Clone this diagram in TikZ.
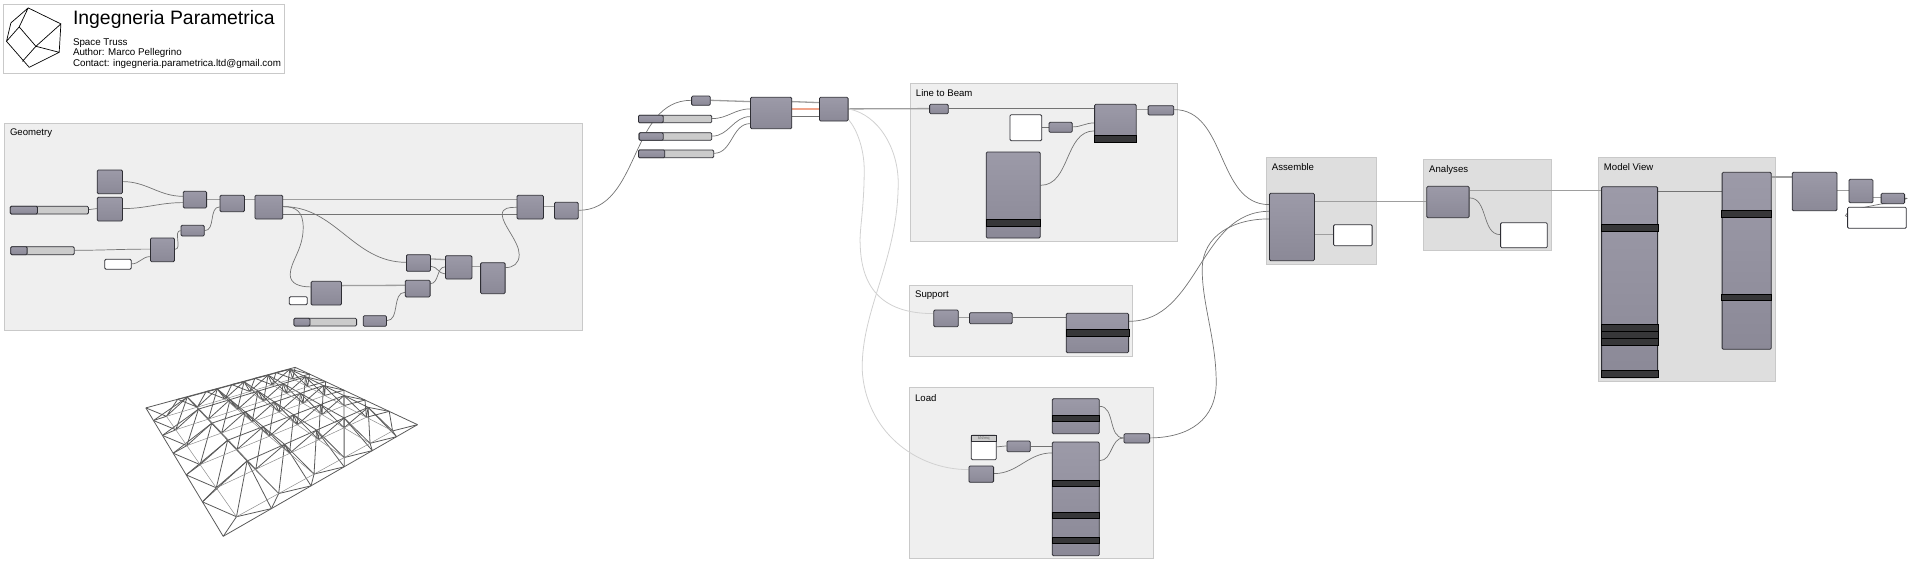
\documentclass[tikz,border=0pt]{standalone}
\usepackage{fontspec}
\setmainfont{Liberation Sans}
\definecolor{compTop}{HTML}{9C9AA8}
\definecolor{compBot}{HTML}{8B8997}
\definecolor{compLine}{HTML}{2E2E34}
\definecolor{bandFill}{HTML}{373739}
\definecolor{grpLight}{HTML}{EFEFEF}
\definecolor{grpDark}{HTML}{DEDEDE}
\definecolor{grpLine}{HTML}{C9C9C9}
\definecolor{sliderFill}{HTML}{CBCBCB}
\definecolor{hotWire}{HTML}{F0A58C}
\pgfdeclarelayer{grp}
\pgfdeclarelayer{wires}
\pgfsetlayers{grp,wires,main}
\tikzset{
  comp/.style={draw=compLine,line width=.8,rounded corners=1.2,top color=compTop,bottom color=compBot,anchor=north west,inner sep=0},
  pan/.style={draw=compLine,line width=.8,rounded corners=1.2,fill=white,anchor=north west,inner sep=0},
  slider/.style={draw=compLine,line width=.8,rounded corners=1.2,fill=sliderFill,anchor=north west,inner sep=0},
  grpbox/.style={draw=grpLine,line width=1,anchor=north west,inner sep=0},
  grptext/.style={anchor=west,font=\fontsize{9.6}{11}\selectfont,inner sep=0},
  band/.style={draw=black,line width=.6,fill=bandFill},
  wire/.style={draw=black!55,line width=.7},
  wirethick/.style={draw=black!38,line width=1.3},
  wirefaint/.style={draw=black!18,line width=.8},
  wirehot/.style={draw=hotWire,line width=1.2},
  truss/.style={draw=black!65,line width=.8},
  trusslow/.style={draw=black!45,line width=.5}
}
\begin{document}
\begin{tikzpicture}[x=1pt,y=-1pt]
\useasboundingbox (.8,.4) rectangle (1910.8,566.4);
\node[pan,draw=grpLine,line width=1,rounded corners=0,minimum width=281,minimum height=69] (Info) at (4,4.5) {};
\draw[line width=.7] (29,8.3) -- (61.7,24.3) -- (60,52.7) -- (30,67.7) -- (7.3,41.7) -- (11.7,23.3) -- cycle
  (29,8.3) -- (20,27.3) -- (7.3,41.7) (20,27.3) -- (36.7,46.7) -- (61.7,24.3)
  (36.7,46.7) -- (60,52.7) (36.7,46.7) -- (23.3,61.7);
\node[anchor=west,inner sep=0,font=\fontsize{19.4}{22}\selectfont] (Title) at (73.6,20.3) {Ingegneria Parametrica};
\foreach \n/\y/\t in {Sub/43.3/Space Truss,Who/53.6/Author: Marco Pellegrino,Mail/64/Contact: ingegneria.parametrica.ltd@gmail.com} {
  \node[anchor=west,inner sep=0,font=\fontsize{9.8}{11}\selectfont] (\n) at (73.6,\y) {\t};
}
\begin{pgfonlayer}{grp}
\foreach \n/\xa/\ya/\xb/\yb/\c/\t in {Geom/4.6/123.7/582.5/330/grpLight/Geometry,Beam/910.5/83.3/1177.6/241.7/grpLight/Line to Beam,Supp/909.7/285.7/1132.4/356.3/grpLight/Support,Load/909.7/387.7/1153.7/558.7/grpLight/Load,Asm/1266.5/157/1376.8/264.3/grpDark/Assemble,Ana/1423.8/159.7/1551.5/250.3/grpDark/Analyses,View/1598.5/157.3/1775.5/381.3/grpDark/Model View} {
  \node[grpbox,fill=\c,minimum width=\xb-\xa,minimum height=\yb-\ya] (\n) at (\xa,\ya) {};
  \node[grptext] (\n T) at (\xa+6,\ya+10.3) {\t};
}
\end{pgfonlayer}
\foreach \n/\xa/\ya/\xb/\yb in {G1/97.6/170/122.8/193.7,G2/97.6/197.3/122.8/221,G3/150.8/238/174.9/261.7,G4/181.4/225.3/204.7/236,G5/183.7/191.3/207/208,G6/220.4/195.3/244.9/211.7,G7/255.3/195.3/283.2/219,G8/517.4/195.3/543.8/219,G9/554.9/202.3/578.6/219,G10/406.8/254.7/430.9/271.3,G11/405.7/280.3/430.5/297,G12/445.8/255.7/472.3/279,G13/481/262.7/505.5/293.7,G14/311.5/281.3/341.8/305,G15/363.6/315.7/386.9/326.3,
  A1/692/96/710.7/105.3,A2/750.9/97.3/792.2/128.7,A3/819.8/97.3/848.5/121,
  L1/930/104.3/948.7/113.7,L3/1049.4/122.3/1072.7/132.3,L4/1095/104.3/1136.6/142.3,L5/1148.5/105.7/1174.2/115,L6/986.6/152/1040.6/238,
  U1/934.2/310/958.7/326.7,U2/969.8/312.7/1012.6/323.7,U3/1066.6/313.3/1129/352.7,
  O1/1052.7/398.7/1099.7/433.7,O2/1052.7/442/1099.7/555.7,O3/1124.3/433.7/1150/443,O5/1007.3/441/1030.7/451.7,O6/969.3/466/994/482.3,
  M1/1269.9/193.3/1314.8/260.7,N1/1427.2/186.3/1469.5/217.7,V1/1602/186.7/1658/377.7,V2/1722.5/172.3/1771.6/349.3,W1/1792.6/172.3/1837.4/210.7,W2/1849.4/179.3/1873.3/202.7,W3/1881.5/193.3/1905/203.7} {
  \node[comp,minimum width=\xb-\xa,minimum height=\yb-\ya] (\n) at (\xa,\ya) {};
}
\foreach \n/\xa/\ya/\xb/\yb in {P1/105.2/259.3/131.6/269.3,P2/289.7/296.7/307.7/304.7,L2/1010.4/114.7/1042.1/140.7,O4/971.7/435.3/996.7/459.7,M2/1334/224.7/1372.5/245.7,N2/1501/222.7/1547.7/247.7,W4/1848/207.3/1906.7/228.3} {
  \node[pan,minimum width=\xb-\xa,minimum height=\yb-\ya] (\n) at (\xa,\ya) {};
}
\node[slider,rounded corners=0,minimum width=24.6,minimum height=6,font=\fontsize{4}{4}\selectfont,text=black!60] (O4h) at (971.9,435.6) {kN/mq};
\foreach \n/\xa/\ya/\xb/\yb/\xc in {S1/10.7/206.3/88.8/214/37.9,S2/11.1/246.7/74.6/254.7/27.5,S3/294.3/318.3/357/326/310.4,S4/638.8/115.3/712.2/122.7/663.6,S5/639.5/132.7/712.2/140.3/663.6,S6/638.8/150/714.1/157.7/665.2} {
  \node[slider,minimum width=\xb-\xa,minimum height=\yb-\ya] (\n) at (\xa,\ya) {};
  \node[comp,minimum width=\xc-\xa,minimum height=\yb-\ya] (\n g) at (\xa,\ya) {};
}
\foreach \n/\ya/\yb in {L4/135.7/142.3,L6/219.7/226.7,U3/330/336.7,O1/415.3/421.7,O2/480.3/486.7,O2/512.3/519,O2/537.3/543.7,V1/224.7/231.7,V1/325/331.7,V1/332/338.7,V1/339/345.7,V1/370.7/377.7,V2/211/217.7,V2/294.3/301} {
  \draw[band] (\n.west |- 0,\ya) rectangle (\n.east |- 0,\yb);
}
\begin{pgfonlayer}{wires}
\foreach \a/\ya/\b/\yb in {S1/210/G2/209,G1/182/G5/196.7,G2/209/G5/203,S2/250.7/G3/249.5,P1/264.3/G3/257,G3/249.7/G4/231,G4/231/G6/207.3,G7/207/G10/262.7,G7/214.7/G8/214.7,G10/266.7/G12/274.3,G11/284/G12/267.3,G15/321/G11/292.7,G9/210.7/A1/100.7,S4/119/A2/109.3,S5/136.5/A2/117,S6/153.7/A2/124,A2/116.3/A3/116.3,L1/109/L4/109,L2/127.3/L3/127.3,L3/127.3/L4/123.3,L6/185.7/L4/131.3,L5/110/M1/205,U2/318/U3/318,U3/321.7/M1/211.7,O1/406.7/O3/438.3,O2/461/O3/438.3,O4/447.3/O5/446.3,O5/446.3/O2/446.3,O6/474/O2/453.3,N1/198.3/N2/235,V1/191.7/V2/191.7} {
  \draw[wire] (\a.east |- 0,\ya) to[out=0,in=180] (\b.west |- 0,\yb);
}
\foreach \a/\ya/\b/\yb in {G5/199.7/G6/199.7,G6/199.7/G7/199.7,G7/199.7/G8/199.7,G14/286/G11/285.7,G10/259.3/G12/260,G12/267/G13/267,G8/207/G9/207,A1/100.7/A2/102,A2/102/A3/103,A3/109.3/L1/109,L4/110/L5/110,U1/318/U2/318,M1/201.7/N1/201.7,M1/235/M2/235,N1/191/V1/191,V2/177.3/W1/177.3,W1/190.7/W2/190.7,W2/198/W3/198} {
  \draw[wirethick] (\a.east |- 0,\ya) -- (\b.west |- 0,\yb);
}
\draw[wirehot] (A2.east |- 0,109.3) -- (A3.west |- 0,109.3);
\draw[wire] (G7.east |- 0,207) .. controls (297,207) and (304,212) .. (304,228) .. controls (304,250) and (291,262) .. (291,275) .. controls (291,284) and (300,287.3) .. (G14.west |- 0,287.3);
\draw[wire] (G13.east |- 0,268) .. controls (514,268) and (520,264) .. (520,255) .. controls (520,242) and (503,225) .. (503,215) .. controls (503,208) and (510,207.7) .. (G8.west |- 0,207.7);
\draw[wire] (O3.east |- 0,438.3) .. controls (1190,438) and (1217,420) .. (1217,383) .. controls (1217,340) and (1203,305) .. (1203,270) .. controls (1203,235) and (1235,219.3) .. (M1.west |- 0,219.3);
\draw[wirefaint] (A3.east |- 0,109.3) .. controls (880,115) and (899,150) .. (899,183) .. controls (899,260) and (862,310) .. (863,370) .. controls (866,430) and (915,470) .. (O6.west |- 0,470);
\draw[wirefaint] (A3.east |- 0,120) .. controls (858,130) and (865,150) .. (865,170) .. controls (865,210) and (860,230) .. (861,245) .. controls (862,285) and (880,314) .. (U1.west |- 0,314);
\draw[wire] (W3.east |- 0,198.5) .. controls (1918,198.5) and (1870,206) .. (1860,209) .. controls (1848,212) and (1843,217) .. (W4.west |- 0,217);
\end{pgfonlayer}
\foreach \i in {0,...,6} {
  \foreach \j in {0,...,6} {
    \pgfmathsetmacro\tru{\i/6}
    \pgfmathsetmacro\trv{\j/6}
    \pgfmathsetmacro\trw{.650*\tru+.834*\trv+1}
    \pgfmathsetmacro\trh{(\i>0)*(\i<6)*(\j>0)*(\j<6)*24}
    \coordinate (T\i-\j) at ({(466.2*\tru+45*\trv+224)/\trw},{(164.6*\tru+212.1*\trv+536.7-\trh)/\trw});
  }
}
\foreach \i in {0,...,5} {
  \foreach \j in {0,...,5} {
    \pgfmathsetmacro\tru{(\i+.5)/6}
    \pgfmathsetmacro\trv{(\j+.5)/6}
    \pgfmathsetmacro\trw{.650*\tru+.834*\trv+1}
    \coordinate (H\i-\j) at ({(466.2*\tru+45*\trv+224)/\trw},{(164.6*\tru+212.1*\trv+536.7+13)/\trw});
  }
}
\foreach \i in {0,...,5} {
  \pgfmathtruncatemacro\ia{\i+1}
  \foreach \j in {0,...,6} {
    \draw[truss] (T\i-\j) -- (T\ia-\j) (T\j-\i) -- (T\j-\ia);
  }
  \foreach \j in {0,...,5} {
    \pgfmathtruncatemacro\ja{\j+1}
    \draw[truss] (H\i-\j) -- (T\i-\j) (H\i-\j) -- (T\ia-\j) (H\i-\j) -- (T\i-\ja) (H\i-\j) -- (T\ia-\ja);
  }
}
\foreach \i in {0,...,4} {
  \pgfmathtruncatemacro\ia{\i+1}
  \foreach \j in {0,...,5} {
    \draw[trusslow] (H\i-\j) -- (H\ia-\j) (H\j-\i) -- (H\j-\ia);
  }
}
\end{tikzpicture}
\end{document}
